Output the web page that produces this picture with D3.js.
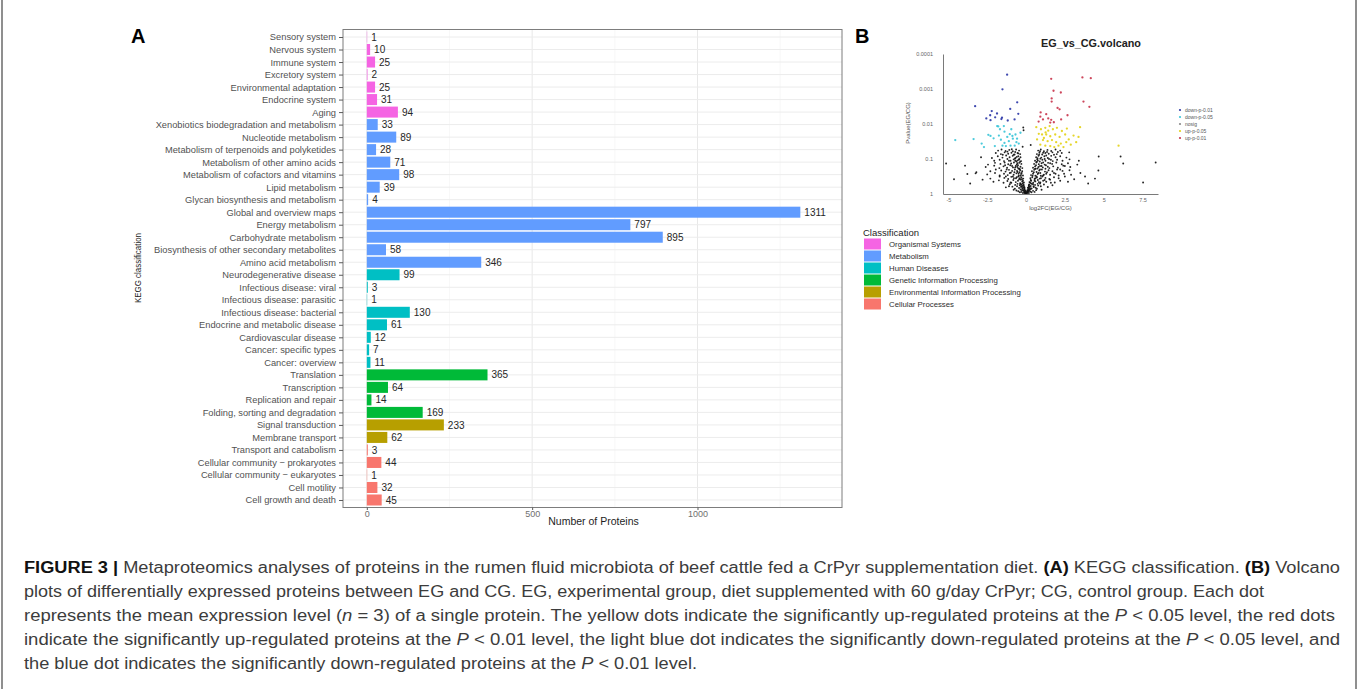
<!DOCTYPE html>
<html>
<head>
<meta charset="utf-8">
<script src="https://cdn.jsdelivr.net/npm/d3@7"></script>
<style>
  body { margin: 0; background: #fff; }
  svg { display: block; }
  text { font-family: "Liberation Sans", Arial, Helvetica, sans-serif; }
</style>
</head>
<body>
<svg id="fig" width="1360" height="689"></svg>
<script>
// ---------- Panel A: KEGG classification ----------
const categories = [
  "Sensory system", "Nervous system", "Immune system", "Excretory system",
  "Environmental adaptation", "Endocrine system", "Aging",
  "Xenobiotics biodegradation and metabolism", "Nucleotide metabolism",
  "Metabolism of terpenoids and polyketides", "Metabolism of other amino acids",
  "Metabolism of cofactors and vitamins", "Lipid metabolism",
  "Glycan biosynthesis and metabolism", "Global and overview maps",
  "Energy metabolism", "Carbohydrate metabolism",
  "Biosynthesis of other secondary metabolites", "Amino acid metabolism",
  "Neurodegenerative disease", "Infectious disease: viral",
  "Infectious disease: parasitic", "Infectious disease: bacterial",
  "Endocrine and metabolic disease", "Cardiovascular disease",
  "Cancer: specific types", "Cancer: overview",
  "Translation", "Transcription", "Replication and repair",
  "Folding, sorting and degradation",
  "Signal transduction", "Membrane transport",
  "Transport and catabolism", "Cellular community \u2212 prokaryotes",
  "Cellular community \u2212 eukaryotes", "Cell motility", "Cell growth and death"
];
const proteinCounts = [
  1, 10, 25, 2, 25, 31, 94,
  33, 89, 28, 71, 98, 39, 4, 1311, 797, 895, 58, 346,
  99, 3, 1, 130, 61, 12, 7, 11,
  365, 64, 14, 169,
  233, 62,
  3, 44, 1, 32, 45
];
const categoryClass = [
  "OS","OS","OS","OS","OS","OS","OS",
  "M","M","M","M","M","M","M","M","M","M","M","M",
  "HD","HD","HD","HD","HD","HD","HD","HD",
  "GIP","GIP","GIP","GIP",
  "EIP","EIP",
  "CP","CP","CP","CP","CP"
];
const classKeys   = ["OS", "M", "HD", "GIP", "EIP", "CP"];
const classNames  = ["Organismal Systems", "Metabolism", "Human Diseases",
                     "Genetic Information Processing", "Environmental Information Processing",
                     "Cellular Processes"];
const classColors = ["#F564E3", "#619CFF", "#00BFC4", "#00BA38", "#B79F00", "#F8766D"];
const xTicksA = [0, 500, 1000];
const xMinorA = [250, 750, 1250];

// ---------- Panel B: volcano plot, points as [log2FC, -log10(p)] ----------
const downP01 = [
  [-1.22,3.41],[-1.52,2.99],[-0.57,2.62],[-3.28,2.51],[-1.02,2.43],[-2.21,2.37],
  [-1.87,2.30],[-2.31,2.25],[-2.56,2.16],[-2.29,2.11],[-1.55,2.18],[-1.59,2.14],
  [-1.18,2.10],[-0.74,2.13],[-0.50,2.29],[-1.99,2.19]
];
const downP05 = [
  [-4.56,1.54],[-3.38,1.57],[-2.71,1.34],[-2.86,1.44],[-2.43,1.69],[-2.29,1.66],
  [-2.09,1.59],[-1.86,1.94],[-1.68,1.85],[-1.79,1.93],[-1.75,1.67],[-1.43,1.94],
  [-1.39,1.78],[-1.05,1.71],[-0.88,1.66],[-0.68,1.70],[-0.58,1.58],[-0.85,1.58],
  [-1.11,1.51],[-1.39,1.46],[-1.30,1.37],[-1.00,1.38],[-0.73,1.38],[-0.47,1.44],
  [-1.52,1.38],[-2.01,1.37],[-0.36,1.75],[-1.21,1.63],[-0.95,1.85],[-0.62,1.48],
  [-1.62,1.55]
];
const upP05 = [
  [0.66,1.91],[0.96,1.85],[1.24,1.89],[1.52,1.94],[1.73,1.85],[1.99,1.89],
  [2.31,1.80],[2.63,1.87],[3.48,1.91],[1.03,1.70],[1.30,1.70],[1.56,1.65],
  [1.88,1.70],[2.16,1.63],[2.52,1.70],[3.06,1.67],[3.38,1.63],[0.71,1.56],
  [1.09,1.54],[1.39,1.51],[1.67,1.54],[1.94,1.48],[2.24,1.44],[2.59,1.48],
  [2.88,1.41],[3.23,1.48],[1.24,1.38],[1.56,1.37],[1.82,1.34],[2.09,1.38],
  [2.41,1.34],[0.92,1.41],[5.96,1.38],[1.26,1.76],[1.43,1.81],[0.82,1.72],
  [2.75,1.56],[1.15,1.60]
];
const upP01 = [
  [1.62,3.29],[3.63,3.33],[4.17,3.31],[1.77,2.95],[2.24,2.90],[1.65,2.73],
  [1.65,2.64],[3.70,2.64],[4.08,2.49],[2.03,2.46],[2.16,2.42],[0.94,2.33],
  [1.30,2.28],[2.67,2.25],[0.92,2.21],[1.09,2.13],[1.43,2.16],[1.62,2.12],
  [1.79,2.05],[0.81,2.07],[1.56,2.04],[2.26,2.13]
];
const nosig = [
  [0.00,0.01],[-0.02,0.03],[0.06,0.04],[-0.09,0.05],[0.08,0.08],[-0.04,0.10],[0.02,0.06],[-0.06,0.02],
  [-0.05,0.02],[-0.12,0.04],[-0.20,0.03],[-0.30,0.06],[-0.08,0.07],[-0.16,0.09],[-0.40,0.05],[-0.26,0.11],
  [-0.50,0.08],[-0.35,0.13],[-0.62,0.10],[0.04,0.02],[0.10,0.05],[0.18,0.03],[0.27,0.07],[0.12,0.10],
  [0.35,0.05],[0.22,0.12],[0.45,0.09],[0.30,0.14],[0.55,0.06],[0.65,0.11],[0.14,0.08],[-0.11,0.12],
  [-0.10,0.16],[-0.20,0.18],[-0.32,0.20],[-0.45,0.17],[-0.58,0.22],[-0.72,0.15],[-0.15,0.24],[-0.28,0.27],
  [-0.40,0.25],[-0.55,0.29],[-0.70,0.26],[-0.88,0.21],[-1.05,0.28],[-1.30,0.19],[-0.13,0.20],[-0.22,0.23],
  [0.15,0.17],[0.24,0.20],[0.36,0.16],[0.48,0.22],[0.62,0.18],[0.78,0.24],[0.20,0.27],[0.32,0.30],
  [0.45,0.28],[0.58,0.26],[0.75,0.29],[0.95,0.22],[1.15,0.27],[1.40,0.20],[1.70,0.25],[0.18,0.22],
  [-0.14,0.33],[-0.25,0.36],[-0.38,0.31],[-0.52,0.38],[-0.66,0.34],[-0.82,0.40],[-1.00,0.33],[-1.20,0.37],
  [-1.45,0.32],[-1.75,0.39],[-2.10,0.35],[-0.18,0.44],[-0.30,0.47],[-0.45,0.42],[-0.60,0.48],[-0.78,0.45],
  [-0.95,0.49],[-1.15,0.43],[-1.40,0.46],[-1.70,0.50],[-2.30,0.44],[-2.80,0.41],[-0.20,0.38],[-0.35,0.41],
  [0.22,0.34],[0.33,0.38],[0.46,0.32],[0.60,0.36],[0.76,0.40],[0.92,0.33],[1.10,0.38],[1.30,0.35],
  [1.55,0.41],[1.85,0.33],[2.20,0.38],[2.70,0.35],[0.28,0.45],[0.40,0.48],[0.55,0.43],[0.70,0.47],
  [0.88,0.44],[1.05,0.50],[1.25,0.46],[1.50,0.43],[1.80,0.48],[2.10,0.45],[2.50,0.50],[3.10,0.42],
  [-0.20,0.53],[-0.32,0.57],[-0.46,0.52],[-0.62,0.59],[-0.80,0.55],[-0.98,0.61],[-1.18,0.54],[-1.42,0.58],
  [-1.70,0.53],[-2.00,0.60],[-2.50,0.56],[-0.25,0.65],[-0.38,0.68],[-0.55,0.63],[-0.72,0.70],[-0.90,0.66],
  [-1.10,0.69],[-1.32,0.64],[-1.60,0.67],[-1.95,0.70],[-2.30,0.65],[-3.20,0.62],[-0.28,0.60],[-0.42,0.62],
  [0.32,0.54],[0.45,0.58],[0.60,0.52],[0.75,0.57],[0.92,0.60],[1.10,0.53],[1.30,0.58],[1.55,0.55],
  [1.80,0.60],[2.10,0.53],[2.45,0.58],[2.90,0.55],[3.50,0.60],[0.38,0.65],[0.52,0.69],[0.68,0.63],
  [0.85,0.67],[1.02,0.70],[1.22,0.64],[1.45,0.68],[1.70,0.65],[2.00,0.70],[2.35,0.66],[2.80,0.68],
  [-0.24,0.74],[-0.36,0.78],[-0.50,0.73],[-0.66,0.80],[-0.84,0.76],[-1.02,0.82],[-1.22,0.75],[-1.45,0.79],
  [-1.72,0.74],[-2.05,0.81],[-2.60,0.77],[-0.30,0.86],[-0.44,0.89],[-0.60,0.84],[-0.78,0.90],[-0.96,0.87],
  [-1.15,0.85],[-1.38,0.90],[-1.65,0.86],[-2.00,0.89],[-2.45,0.84],[-0.40,0.71],[-0.56,0.77],
  [0.45,0.75],[0.58,0.79],[0.74,0.73],[0.90,0.80],[1.08,0.76],[1.28,0.82],[1.50,0.74],[1.75,0.79],
  [2.05,0.75],[2.40,0.81],[2.85,0.77],[0.52,0.86],[0.66,0.90],[0.82,0.85],[1.00,0.88],[1.20,0.84],
  [1.42,0.89],[1.68,0.86],[1.95,0.90],[2.30,0.85],[2.70,0.88],[3.30,0.84],[0.62,0.72],[0.80,0.77],
  [-0.32,0.94],[-0.46,0.98],[-0.62,0.93],[-0.80,0.99],[-1.00,0.95],[-1.20,1.00],[-1.42,0.94],[-1.70,0.98],
  [-2.05,0.95],[-0.36,1.05],[-0.50,1.08],[-0.68,1.03],[-0.86,1.09],[-1.06,1.05],[-1.28,1.10],[-1.52,1.04],
  [-1.82,1.08],[-2.20,1.03],[-0.55,0.96],[-0.72,1.01],
  [0.58,0.95],[0.72,0.99],[0.88,0.93],[1.05,0.98],[1.25,0.95],[1.48,1.00],[1.72,0.94],[2.00,0.98],
  [2.35,0.95],[2.80,0.99],[0.65,1.05],[0.80,1.09],[0.98,1.04],[1.18,1.08],[1.40,1.03],[1.62,1.09],
  [1.90,1.05],[2.20,1.08],[2.60,1.04],[0.76,0.96],[0.92,1.01],
  [-0.38,1.14],[-0.55,1.17],[-0.74,1.13],[-0.94,1.18],[-1.15,1.15],[-1.38,1.19],[-1.62,1.14],[-1.95,1.17],
  [-0.45,1.24],[-0.64,1.27],[-0.85,1.22],[-1.08,1.26],[-1.32,1.23],[-1.58,1.27],
  [0.70,1.14],[0.86,1.18],[1.04,1.13],[1.24,1.17],[1.46,1.15],[1.70,1.19],[1.98,1.14],[2.30,1.17],
  [0.78,1.24],[0.95,1.27],[1.15,1.22],[1.38,1.26],[1.62,1.23],[1.90,1.27],[2.20,1.24],
  [-5.15,0.87],[-4.64,0.42],[-3.93,0.81],[-3.78,0.57],[-3.25,0.59],[-3.60,0.30],[-2.90,1.05],
  [7.54,0.33],[8.35,0.90],[6.26,0.87],[6.09,1.07],[4.68,1.07],[4.44,0.44],[4.66,0.67],[2.78,1.19],
  [3.80,0.50],[3.40,0.95],[4.00,0.30],[-0.18,1.90],[-0.16,1.82],[-0.22,1.35],[0.30,1.40],
  [-0.03,0.05],[0.05,0.02],[-0.07,0.08],[0.09,0.11],[-0.12,0.14],[0.15,0.13],[-0.18,0.10],[0.20,0.09],
  [-0.10,0.19],[0.12,0.18],[-0.24,0.15],[0.25,0.16],[-0.16,0.27],[0.18,0.25],[-0.30,0.22],[0.30,0.23],
  [-0.22,0.31],[0.26,0.33],[-0.36,0.28],[0.38,0.29],
  [-0.26,0.42],[-0.40,0.45],[-0.50,0.50],[-0.34,0.52],[-0.48,0.58],[-0.58,0.66],[-0.44,0.72],[-0.52,0.82],
  [-0.70,0.76],[-0.38,0.92],[-0.56,0.88],[-0.70,0.95],[-0.44,1.00],[-0.60,1.06],[-0.80,1.12],[-0.50,1.16],
  [-0.70,1.20],[-0.92,1.28],[-1.20,1.21],[-1.10,0.95],[-0.90,0.80],[-0.75,0.62],[-0.65,0.45],[-0.85,0.50],
  [-1.05,0.60],[-1.25,0.70],[-1.35,0.82],[-1.50,1.12],[-1.80,1.24],[-1.30,0.50],[-0.95,0.32],[-1.10,0.22],
  [-0.80,0.12],
  [0.30,0.40],[0.42,0.52],[0.50,0.62],[0.58,0.72],[0.64,0.82],[0.70,0.92],[0.74,1.02],[0.84,1.12],
  [0.90,1.22],[0.55,0.38],[0.68,0.50],[0.80,0.60],[0.90,0.70],[1.00,0.80],[1.10,0.90],[1.20,1.00],
  [1.30,1.10],[1.35,1.20],[0.82,0.34],[0.96,0.45],[1.15,0.55],[1.25,0.72],[1.35,0.62],[1.40,0.78],
  [1.55,0.88],[1.60,0.98],[1.80,1.12],[2.05,1.20],[0.50,0.20],[0.70,0.15],[0.90,0.30],[1.00,0.12],
  [1.20,0.40],[1.60,0.32],[1.90,0.58],[2.20,0.70],[2.50,0.80],[1.10,1.18],[0.95,0.52],[0.60,0.45]
];
const volcanoSeries = [
  { name: "nosig",        points: nosig,   color: "#111111", r: 0.95 },
  { name: "down-p-0.05",  points: downP05, color: "#3cc6d8", r: 1.15 },
  { name: "up-p-0.05",    points: upP05,   color: "#e4d21a", r: 1.15 },
  { name: "down-p-0.01",  points: downP01, color: "#2f3aa8", r: 1.15 },
  { name: "up-p-0.01",    points: upP01,   color: "#c9374e", r: 1.15 }
];
const volcanoLegend = ["down-p-0.01", "down-p-0.05", "nosig", "up-p-0.05", "up-p-0.01"];
const volcanoLegendColors = ["#2f3aa8", "#3cc6d8", "#8a8a8a", "#e4d21a", "#c9374e"];
const volcanoXTicks = [-5, -2.5, 0, 2.5, 5, 7.5];
const volcanoYTicks = [1, 0.1, 0.01, 0.001, 0.0001];

// ---------- Caption ----------
const captionLines = [
  [["FIGURE 3 | ","b"],["Metaproteomics analyses of proteins in the rumen fluid microbiota of beef cattle fed a CrPyr supplementation diet. ",""],["(A)","b"],[" KEGG classification. ",""],["(B)","b"],[" Volcano",""]],
  [["plots of differentially expressed proteins between EG and CG. EG, experimental group, diet supplemented with 60 g/day CrPyr; CG, control group. Each dot",""]],
  [["represents the mean expression level (",""],["n","i"],[" = 3) of a single protein. The yellow dots indicate the significantly up-regulated proteins at the ",""],["P","i"],[" < 0.05 level, the red dots",""]],
  [["indicate the significantly up-regulated proteins at the ",""],["P","i"],[" < 0.01 level, the light blue dot indicates the significantly down-regulated proteins at the ",""],["P","i"],[" < 0.05 level, and",""]],
  [["the blue dot indicates the significantly down-regulated proteins at the ",""],["P","i"],[" < 0.01 level.",""]]
];

// ======================================================================
const svg = d3.select("#fig");

// outer frame lines
svg.append("line").attr("x1", 2).attr("x2", 2).attr("y1", 0).attr("y2", 689)
  .attr("stroke", "#6a6a6a").attr("stroke-width", 1.5);
svg.append("line").attr("x1", 1356).attr("x2", 1356).attr("y1", 0).attr("y2", 689)
  .attr("stroke", "#6a6a6a").attr("stroke-width", 1.5);

// ---------------- Panel A ----------------
const pA = { left: 343, right: 842, top: 29.5, bottom: 507.5 };
const x = d3.scaleLinear().domain([-72, 1437]).range([pA.left, pA.right]);
const y = d3.scalePoint().domain(categories).range([pA.top, pA.bottom]).padding(0.6);
const barH = y.step() * 0.88;
const colorOf = d3.scaleOrdinal().domain(classKeys).range(classColors);

const gA = svg.append("g");
// grid
gA.selectAll(".minor").data(xMinorA).join("line")
  .attr("x1", d => x(d)).attr("x2", d => x(d)).attr("y1", pA.top).attr("y2", pA.bottom)
  .attr("stroke", "#f1f1f1").attr("stroke-width", 0.6);
gA.selectAll(".major").data(xTicksA).join("line")
  .attr("x1", d => x(d)).attr("x2", d => x(d)).attr("y1", pA.top).attr("y2", pA.bottom)
  .attr("stroke", "#e8e8e8").attr("stroke-width", 1);
gA.selectAll(".hgrid").data(categories).join("line")
  .attr("x1", pA.left).attr("x2", pA.right).attr("y1", d => y(d)).attr("y2", d => y(d))
  .attr("stroke", "#ececec").attr("stroke-width", 1);

// bars
const rows = categories.map((c, i) => ({ cat: c, n: proteinCounts[i], cls: categoryClass[i] }));
gA.selectAll(".bar").data(rows).join("rect")
  .attr("x", x(0)).attr("y", d => y(d.cat) - barH / 2)
  .attr("width", d => x(d.n) - x(0)).attr("height", barH)
  .attr("fill", d => colorOf(d.cls));

// value labels
gA.selectAll(".val").data(rows).join("text")
  .attr("x", d => x(d.n) + 4).attr("y", d => y(d.cat)).attr("dy", "0.36em")
  .attr("font-size", 10).attr("fill", "#262626").text(d => d.n);

// panel border
gA.append("rect").attr("x", pA.left).attr("y", pA.top)
  .attr("width", pA.right - pA.left).attr("height", pA.bottom - pA.top)
  .attr("fill", "none").attr("stroke", "#7d7d7d").attr("stroke-width", 1);

// axes
const axL = gA.append("g").attr("transform", `translate(${pA.left},0)`)
  .call(d3.axisLeft(y).tickSize(4).tickPadding(3));
axL.select(".domain").remove();
axL.selectAll(".tick line").attr("stroke", "#5a5a5a");
axL.selectAll(".tick text").attr("font-size", 9.3).attr("fill", "#525252")
  .attr("font-family", "Liberation Sans, Arial, sans-serif");

const axB = gA.append("g").attr("transform", `translate(0,${pA.bottom})`)
  .call(d3.axisBottom(x).tickValues(xTicksA).tickFormat(d3.format("d")).tickSize(2.5).tickPadding(1));
axB.select(".domain").remove();
axB.selectAll(".tick line").attr("stroke", "#5a5a5a");
axB.selectAll(".tick text").attr("font-size", 9).attr("fill", "#6f6f6f")
  .attr("font-family", "Liberation Sans, Arial, sans-serif");

gA.append("text").attr("x", (pA.left + pA.right) / 2 + 1).attr("y", 525)
  .attr("text-anchor", "middle").attr("font-size", 10.5).attr("fill", "#1e1e1e")
  .text("Number of Proteins");
gA.append("text").attr("transform", "translate(141,268) rotate(-90)")
  .attr("text-anchor", "middle").attr("font-size", 9.5).attr("fill", "#1e1e1e")
  .attr("textLength", 70).attr("lengthAdjust", "spacingAndGlyphs")
  .text("KEGG classification");

svg.append("text").attr("x", 131).attr("y", 43).attr("font-size", 20)
  .attr("font-weight", "bold").attr("fill", "#000").text("A");
svg.append("text").attr("x", 855).attr("y", 43).attr("font-size", 20)
  .attr("font-weight", "bold").attr("fill", "#000").text("B");

// classification legend
const gL = svg.append("g");
gL.append("text").attr("x", 863).attr("y", 236).attr("font-size", 9.5)
  .attr("fill", "#1e1e1e").text("Classification");
classNames.forEach((name, i) => {
  gL.append("rect").attr("x", 864).attr("y", 238.5 + i * 12)
    .attr("width", 17).attr("height", 11).attr("fill", classColors[i]);
  gL.append("text").attr("x", 889).attr("y", 244 + i * 12).attr("dy", "0.35em")
    .attr("font-size", 7.8).attr("fill", "#2e2e2e").text(name);
});

// ---------------- Panel B ----------------
const pB = { left: 943, right: 1158, top: 54, bottom: 194 };
const vx = d3.scaleLinear().domain([-5.35, 8.5]).range([pB.left, pB.right]);
const vy = d3.scaleLog().domain([1, 1e-4]).range([pB.bottom, pB.top]);
const toP = nlp => Math.pow(10, -nlp);

const gB = svg.append("g");
gB.append("text").attr("x", 1091).attr("y", 47).attr("text-anchor", "middle")
  .attr("font-size", 10).attr("font-weight", "bold").attr("fill", "#222")
  .attr("textLength", 100).attr("lengthAdjust", "spacingAndGlyphs")
  .text("EG_vs_CG.volcano");

volcanoSeries.forEach(s => {
  gB.append("g").selectAll("circle").data(s.points).join("circle")
    .attr("cx", d => vx(d[0])).attr("cy", d => vy(toP(d[1])))
    .attr("r", s.r).attr("fill", s.color).attr("fill-opacity", 0.92);
});

const vAxL = gB.append("g").attr("transform", `translate(${pB.left},0)`)
  .call(d3.axisLeft(vy).tickValues(volcanoYTicks).tickFormat(d => String(d))
    .tickSize(0).tickSizeOuter(0).tickPadding(10));
vAxL.select(".domain").attr("stroke", "#7a7a7a");
vAxL.selectAll(".tick text").attr("font-size", 5.5).attr("fill", "#666")
  .attr("font-family", "Liberation Sans, Arial, sans-serif");

const vAxB = gB.append("g").attr("transform", `translate(0,${pB.bottom})`)
  .call(d3.axisBottom(vx).tickValues(volcanoXTicks).tickFormat(d => String(d))
    .tickSize(0).tickSizeOuter(0).tickPadding(4));
vAxB.select(".domain").attr("stroke", "#7a7a7a");
vAxB.selectAll(".tick text").attr("font-size", 5.5).attr("fill", "#666")
  .attr("font-family", "Liberation Sans, Arial, sans-serif");

gB.append("text").attr("x", (pB.left + pB.right) / 2).attr("y", 210)
  .attr("text-anchor", "middle").attr("font-size", 6).attr("fill", "#555")
  .text("log2FC(EG/CG)");
gB.append("text").attr("transform", "translate(910,123) rotate(-90)")
  .attr("text-anchor", "middle").attr("font-size", 6).attr("fill", "#555")
  .text("Pvalue(EG/CG)");

volcanoLegend.forEach((name, i) => {
  gB.append("circle").attr("cx", 1180).attr("cy", 110 + i * 7).attr("r", 1.1)
    .attr("fill", volcanoLegendColors[i]);
  gB.append("text").attr("x", 1185).attr("y", 110 + i * 7).attr("dy", "0.35em")
    .attr("font-size", 5).attr("fill", "#555").text(name);
});

// ---------------- Caption ----------------
const captionRight = [1340, 1264, 1335, 1340, 697];
const gC = svg.append("g");
captionLines.forEach((segs, i) => {
  const t = gC.append("text").attr("x", 24).attr("y", 573 + i * 24)
    .attr("font-size", 16).attr("fill", "#3c3c3c")
    .attr("font-family", "Liberation Sans, Arial, sans-serif")
    .attr("textLength", captionRight[i] - 24).attr("lengthAdjust", "spacingAndGlyphs");
  segs.forEach(([str, st]) => {
    const ts = t.append("tspan").text(str);
    if (st === "b") ts.attr("font-weight", "bold").attr("fill", "#111");
    if (st === "i") ts.attr("font-style", "italic");
  });
});
</script>
</body>
</html>
